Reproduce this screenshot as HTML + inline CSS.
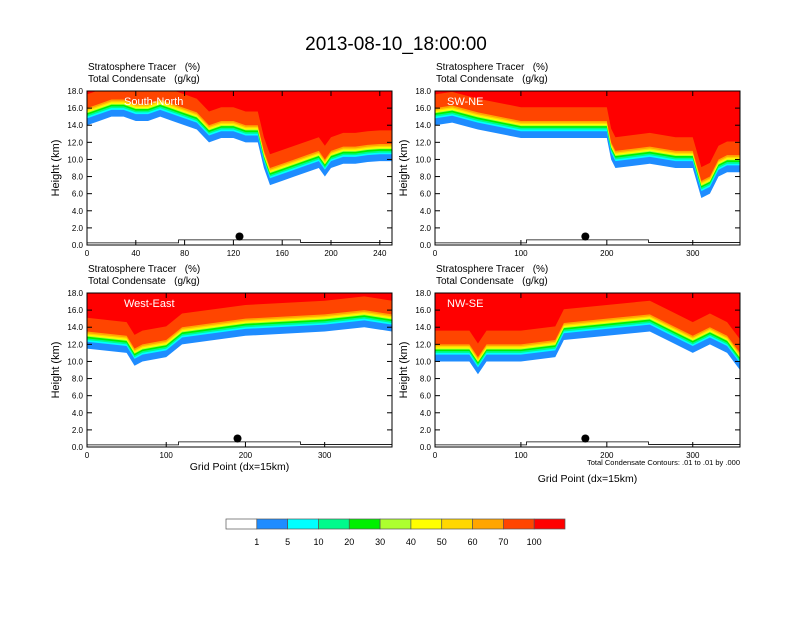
<!DOCTYPE html>
<html><head><meta charset="utf-8"><style>
body{margin:0;background:#fff;}
svg text{font-family:"Liberation Sans",sans-serif;white-space:pre;}
</style></head><body>
<svg id="root" width="792" height="612" viewBox="0 0 792 612" xmlns="http://www.w3.org/2000/svg">
<text x="396" y="50" font-size="19" text-anchor="middle">2013-08-10_18:00:00</text>
<g id="panels"></g>
<g id="cbar"></g>
<text x="740" y="465" font-size="7.5" text-anchor="end">Total Condensate Contours: .01 to .01 by .000</text>
</svg>
<script>
// ---- data ----
const panelNames = ["South-North","SW-NE","West-East","NW-SE"];
const xMaxes = [250,355,385,355];
const xTickVals = [[0,40,80,120,160,200,240],[0,100,200,300],[0,100,200,300],[0,100,200,300]];
const yTickVals = [0,2,4,6,8,10,12,14,16,18];
const gridSN = [0,10,20,30,40,50,60,70,80,90,100,110,120,130,140,145,150,160,170,180,190,195,200,210,220,230,240,250];
const tropSN = [14,14.5,15,15,14.5,14.5,15,14.5,14,13.5,12,12.5,12.5,12,12,9,7,7.5,8,8.5,9,8,9,9.5,9.5,9.7,9.8,9.8];
const gridSWNE = [0,20,50,100,150,200,205,210,250,280,300,310,320,330,340,355];
const tropSWNE = [14,14.3,13.5,12.5,12.5,12.5,10,9,9.5,9,9,5.5,6,8,8.5,8.5];
const gridWE = [0,50,60,70,100,120,200,300,350,385];
const tropWE = [11.5,11,9.5,10,10.5,12,13,13.5,14,13.5];
const gridNWSE = [0,40,50,60,100,140,150,200,250,270,300,320,340,355];
const tropNWSE = [10,10,8.5,10,10,10.5,12.5,13,13.5,12.5,11,12,11,9];
const markerX = [125,175,190,175];
const cbLabels = ["1","5","10","20","30","40","50","60","70","100"];
const cbColors = ["#ffffff","#1e8cff","#00ffff","#00fa8c","#00f000","#adff2f","#ffff00","#ffd700","#ffa500","#ff4500","#ff0000"];
const bandOffsets = [0,0.8,1.0,1.2,1.4,1.5,1.65,1.8,2.0,3.6];
// ---- layout ----
const grids=[gridSN,gridSWNE,gridWE,gridNWSE];
const trops=[tropSN,tropSWNE,tropWE,tropNWSE];
const boxes=[[87,91],[435,91],[87,293],[435,293]];
const W=305,H=154;
const NS="http://www.w3.org/2000/svg";
function mk(tag,attrs,parent){const e=document.createElementNS(NS,tag);for(const k in attrs)e.setAttribute(k,attrs[k]);parent.appendChild(e);return e;}
const panels=document.getElementById('panels');
for(let p=0;p<4;p++){
  const [x0,y0]=boxes[p];
  const g=mk('g',{},panels);
  
  
  const sx=v=>x0+v/xMaxes[p]*W, sy=v=>y0+H-v/18*H;
  const cp=mk('clipPath',{id:'cp'+p},g);mk('rect',{x:x0,y:y0,width:W,height:H},cp);
  const fg=mk('g',{'clip-path':'url(#cp'+p+')'},g);
  for(let b=0;b<bandOffsets.length;b++){
    let d='M'+sx(grids[p][0])+','+y0;
    grids[p].forEach((gx,i)=>{d+=' L'+sx(gx)+','+sy(trops[p][i]+bandOffsets[b]);});
    d+=' L'+sx(grids[p][grids[p].length-1])+','+y0+' Z';
    const band=mk('path',{d:d,fill:cbColors[b+1]},fg);
    
    
  }
  mk('path',{d:`M${x0},${sy(0.25)} L${sx(xMaxes[p]*0.3)},${sy(0.25)} L${sx(xMaxes[p]*0.3)},${sy(0.6)} L${sx(xMaxes[p]*0.7)},${sy(0.6)} L${sx(xMaxes[p]*0.7)},${sy(0.3)} L${x0+W},${sy(0.3)}`,fill:'none',stroke:'#000','stroke-width':0.8},fg);
  const dot=mk('circle',{cx:sx(markerX[p]),cy:sy(1.0),r:4,fill:'#000'},g);
  
  
  mk('rect',{x:x0,y:y0,width:W,height:H,fill:'none',stroke:'#000','stroke-width':1},g);
  const lbl=mk('text',{x:x0+(p%2?12:37),y:y0+14,fill:'#fff','font-size':11},g);lbl.textContent=panelNames[p];
  
  
  const t1=mk('text',{x:x0+1,y:y0-21,'font-size':10},g);t1.textContent='Stratosphere Tracer\u00a0\u00a0\u00a0(%)';
  
  
  const t2=mk('text',{x:x0+1,y:y0-9,'font-size':10},g);t2.textContent='Total Condensate\u00a0\u00a0\u00a0(g/kg)';
  
  
  yTickVals.forEach(v=>{
    mk('line',{x1:x0,x2:x0+5,y1:sy(v),y2:sy(v),stroke:'#000'},g);
    mk('line',{x1:x0+W,x2:x0+W-5,y1:sy(v),y2:sy(v),stroke:'#000'},g);
    const t=mk('text',{x:x0-4,y:sy(v)+3,'font-size':8,'text-anchor':'end'},g);t.textContent=v.toFixed(1);
    
    
  });
  xTickVals[p].forEach(v=>{
    mk('line',{x1:sx(v),x2:sx(v),y1:y0+H,y2:y0+H-5,stroke:'#000'},g);
    mk('line',{x1:sx(v),x2:sx(v),y1:y0,y2:y0+5,stroke:'#000'},g);
    const t=mk('text',{x:sx(v),y:y0+H+11,'font-size':8,'text-anchor':'middle'},g);t.textContent=v;
    
    
  });
  const yt=mk('text',{x:0,y:0,'font-size':11,'text-anchor':'middle',transform:`translate(${x0-28},${y0+H/2}) rotate(-90)`},g);yt.textContent='Height (km)';
  
  
  if(p>=2){const xt=mk('text',{x:x0+W/2,y:p==2?470:482,'font-size':10.5,'text-anchor':'middle'},g);xt.textContent='Grid Point (dx=15km)';
    
    }
}
const cb=document.getElementById('cbar');const cx0=226,cw=339/11;
cbColors.forEach((c,i)=>{const r=mk('rect',{x:cx0+i*cw,y:519,width:cw,height:10,fill:c,stroke:'#555','stroke-width':0.7},cb);
  
  });
cbLabels.forEach((l,i)=>{const t=mk('text',{x:cx0+(i+1)*cw,y:545,'font-size':9,'text-anchor':'middle'},cb);t.textContent=l;
  
  });
</script>
</body></html>
